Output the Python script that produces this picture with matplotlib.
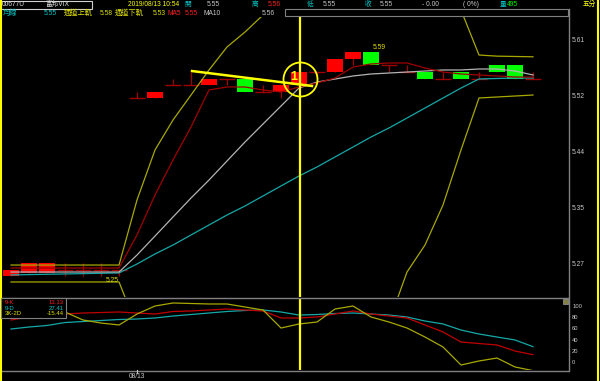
import matplotlib
matplotlib.use('Agg')
import matplotlib.pyplot as plt
from matplotlib.patches import Rectangle

plt.rcParams['font.family'] = ['Liberation Sans', 'Noto Sans CJK TC', 'DejaVu Sans']

# 5-minute bars, 00677U, 08/12 tail + 08/13 morning
opens = [5.25, 5.255, 5.255, 5.26, 5.26, 5.26, 5.26,
         5.52, 5.52, 5.54, 5.54, 5.54, 5.55, 5.55, 5.53, 5.53, 5.54, 5.56, 5.56, 5.58,
         5.59, 5.57, 5.56, 5.56, 5.55, 5.56, 5.55, 5.57, 5.57, 5.55]
highs = [5.26, 5.27, 5.27, 5.27, 5.27, 5.27, 5.26,
         5.53, 5.53, 5.55, 5.56, 5.55, 5.55, 5.55, 5.54, 5.54, 5.56, 5.56, 5.58, 5.59,
         5.59, 5.57, 5.57, 5.56, 5.56, 5.56, 5.56, 5.57, 5.57, 5.56]
lows = [5.25, 5.255, 5.255, 5.25, 5.25, 5.25, 5.25,
        5.52, 5.52, 5.54, 5.54, 5.54, 5.54, 5.53, 5.53, 5.52, 5.54, 5.55, 5.56, 5.57,
        5.57, 5.56, 5.56, 5.55, 5.55, 5.55, 5.55, 5.56, 5.55, 5.55]
closes = [5.26, 5.27, 5.27, 5.26, 5.26, 5.26, 5.26,
          5.52, 5.53, 5.54, 5.54, 5.55, 5.55, 5.53, 5.53, 5.54, 5.56, 5.56, 5.58, 5.59,
          5.57, 5.57, 5.56, 5.55, 5.55, 5.55, 5.55, 5.56, 5.55, 5.55]

ma5 = [5.2625, 5.2625, 5.2625, 5.2625, 5.2625, 5.2625, 5.2625,
       5.3126, 5.3733, 5.4264, 5.4765, 5.5326, 5.5372, 5.5372, 5.5326, 5.5296, 5.5372,
       5.5432, 5.5508, 5.5675, 5.5721, 5.5736, 5.5736, 5.566, 5.5599, 5.5569, 5.5554,
       5.5539, 5.5523, 5.5523]
ma10 = [5.2564, 5.2564, 5.2564, 5.2564, 5.2564, 5.2564, 5.2564,
        5.2822, 5.311, 5.3399, 5.3687, 5.396, 5.4249, 5.4537, 5.481, 5.5083, 5.5356,
        5.5447, 5.5493, 5.5539, 5.5569, 5.5584, 5.5599, 5.5614, 5.563, 5.563, 5.5645,
        5.5645, 5.5614, 5.5554]
avg_line = [5.252, 5.2525, 5.253, 5.2535, 5.254, 5.2545, 5.255,
            5.2686, 5.2838, 5.2974, 5.3126, 5.3278, 5.3429, 5.3566, 5.3718, 5.387, 5.4021,
            5.4158, 5.431, 5.4461, 5.4613, 5.475, 5.4901, 5.5053, 5.5205, 5.5356, 5.5493,
            5.5501, 5.5508, 5.5508]
band_up = [5.267, 5.267, 5.267, 5.267, 5.267, 5.267, 5.267,
           5.3657, 5.4416, 5.4871, 5.525, 5.563, 5.5979, 5.6206, 5.6464, 5.68, 5.70,
           5.71, 5.72, 5.73, 5.73, 5.72, 5.71, 5.70, 5.69, 5.654, 5.5857, 5.584,
           5.5835, 5.583]
band_dn = [5.2413, 5.2413, 5.2413, 5.2413, 5.2413, 5.2413, 5.2413,
           5.173, 5.10, 5.06, 5.03, 5.01, 5.00, 5.00, 5.00, 5.01, 5.02, 5.04, 5.06, 5.09,
           5.13, 5.1806, 5.2564, 5.2974, 5.3581, 5.4416, 5.5205, 5.522, 5.5235, 5.525]

k_line = [75, 80.4, 83.9, 85.7, 87.5, 88.4, 89.3, 87.5, 85.7, 90.2, 91.1, 92.9, 94.6,
          92.9, 91.1, 78.6, 78.6, 80.4, 85.7, 91.1, 85.7, 82.1, 78.6, 66.1, 53.6, 35.7,
          33.0, 30.4, 19.6, 13.13]
d_line = [58.9, 62.5, 65.2, 70.5, 72.3, 74.1, 75.9, 76.8, 78.6, 82.1, 84.8, 87.5, 90.2,
          92.0, 92.9, 89.3, 83.9, 84.8, 86.6, 87.5, 85.7, 83.9, 80.4, 73.2, 67.9, 57.1,
          50.0, 44.6, 39.3, 27.41]
j_line = [100, 98, 95, 89.3, 75, 69.6, 66.1, 85.7, 100, 105.4, 104.5, 103.6, 103.6,
          98.2, 92.9, 60.7, 67.9, 71.4, 94.6, 100, 80.4, 71.4, 60.7, 44.6, 26.8, -5.4,
          1.8, 7.1, -8.9, -15.44]

price_ticks = [5.61, 5.525, 5.44, 5.355, 5.27]
price_tick_labels = ['5.61', '5.52', '5.44', '5.35', '5.27']
kd_ticks = [100, 80, 60, 40, 20, 0]
date_label = '08/13'
date_slot = 7
cursor_slot = 16
trend_x = [10.06, 16.72]
trend_y = [5.5614, 5.5387]

header_row1 = [('00677U', 2, '#e0e0e0', 4.8), ('富邦VIX', 45, '#e0e0e0', 4.8),
               ('2019/08/13 10:54', 128, '#ffff00', 4.8), ('開', 184, '#00c8c8', 4.8),
               ('5.55', 207, '#c8c8c8', 4.8), ('高', 252, '#00c8c8', 4.8),
               ('5.56', 268, '#ff2020', 4.8), ('低', 307, '#00c8c8', 4.8),
               ('5.55', 323, '#c8c8c8', 4.8), ('收', 365, '#00c8c8', 4.8),
               ('5.55', 380, '#c8c8c8', 4.8), ('- 0.00', 422, '#c8c8c8', 4.8),
               ('( 0%)', 463, '#c8c8c8', 4.8), ('量', 500, '#00c8c8', 4.8),
               ('495', 507, '#00ff00', 4.8), ('五分', 583, '#ffff00', 4.8)]
header_row2 = [('均線', 3, '#00c8c8', 5.2), ('5.55', 44, '#00c8c8', 4.8),
               ('通道上軌', 64, '#e0e000', 5.2), ('5.58', 100, '#e0e000', 4.8),
               ('通道下軌', 115, '#e0e000', 5.2), ('5.53', 153, '#e0e000', 4.8),
               ('MA5', 168, '#ff2020', 4.8), ('5.55', 185, '#ff2020', 4.8),
               ('MA10', 203, '#c8c8c8', 4.8), ('5.56', 262, '#c8c8c8', 4.8)]
kd_legend = [('9-K', '13.13', '#ff2020'), ('9-D', '27.41', '#00c8c8'),
             ('3K-2D', '-15.44', '#e0e000')]

RED = '#ff0000'
GREEN = '#00ff00'
DARKRED = '#a00000'
GRAY = '#b4b4b4'
TEAL = '#14a8a8'
OLIVE = '#a8a800'
YELLOW = '#ffff00'

W, H = 600, 381
fig = plt.figure(figsize=(6, 3.81), dpi=100, facecolor='black')


def px_axes(x0, y0, x1, y1):
    a = fig.add_axes([x0 / W, 1 - y1 / H, (x1 - x0) / W, (y1 - y0) / H])
    a.set_facecolor('black')
    for s in a.spines.values():
        s.set_visible(False)
    a.set_xticks([])
    a.set_xlim(-11 / 18, 557 / 18)
    a.yaxis.tick_right()
    a.tick_params(axis='y', length=0, pad=3, labelcolor='#c8c8c8', labelsize=4.8)
    return a


slots = list(range(len(opens)))

# main price panel
ax = px_axes(0, 17, 568, 297)
ax.set_ylim(5.2185, 5.6434)
ax.set_yticks(price_ticks)
ax.set_yticklabels(price_tick_labels)

ax.vlines(slots, lows, highs, color=DARKRED, lw=0.9, zorder=2)
for i in slots:
    o, c = opens[i], closes[i]
    if c > o:
        ax.bar(i, c - o, bottom=o, width=0.94, color=RED, lw=0, zorder=3)
    elif c < o:
        ax.bar(i, o - c, bottom=c, width=0.94, color=GREEN, lw=0, zorder=3)
    else:
        ax.hlines(o, i - 0.47, i + 0.47, color=DARKRED, lw=1.0, zorder=3)

ax.plot(slots, band_up, color=OLIVE, lw=0.9, zorder=4)
ax.plot(slots, band_dn, color=OLIVE, lw=0.9, zorder=4)
ax.plot(slots, avg_line, color=TEAL, lw=0.9, zorder=4)
ax.plot(slots, ma10, color=GRAY, lw=0.9, zorder=4)
ax.plot(slots, ma5, color=DARKRED, lw=0.9, zorder=4)

hi_i = len(highs) - 1 - highs[::-1].index(max(highs))
lo_i = len(lows) - 1 - lows[::-1].index(min(lows))
ax.text(hi_i + 0.45, max(highs) + 0.007, '%.2f' % max(highs), color='#e0e000',
        fontsize=4.8, ha='center', va='center', zorder=6)
ax.text(lo_i - 0.4, min(lows) - 0.007, '%.2f' % min(lows), color='#e0e000',
        fontsize=4.8, ha='center', va='center', zorder=6)

# user drawings
ax.plot(trend_x, trend_y, color=YELLOW, lw=1.8, zorder=5)
ax.axvline(cursor_slot + 0.06, color=YELLOW, lw=1.6, zorder=5)
ax.plot([cursor_slot + 0.06], [5.5493], marker='o', ms=24.5, mfc='none', mec=YELLOW,
        mew=1.3, zorder=6)
ax.text(cursor_slot - 0.31, 5.5516, '1', color=YELLOW, fontsize=9, fontweight='bold',
        ha='center', va='center', zorder=6)

# KD panel
ax2 = px_axes(0, 298, 568, 370)
ax2.set_ylim(-14.3, 114.3)
ax2.set_yticks(kd_ticks)
ax2.tick_params(axis='y', labelsize=4.2)
ax2.plot(slots, d_line, color=TEAL, lw=0.9)
ax2.plot(slots, k_line, color='#c00000', lw=0.9)
ax2.plot(slots, j_line, color=OLIVE, lw=0.9)
ax2.axvline(cursor_slot + 0.06, color=YELLOW, lw=1.6)

# frame, header and overlays in pixel coordinates
ov = fig.add_axes([0, 0, 1, 1])
ov.set_xlim(0, W)
ov.set_ylim(H, 0)
ov.axis('off')
ov.patch.set_alpha(0)

ov.plot([0, 568], [297.5, 297.5], color='#808080', lw=1)
ov.plot([0, 568], [370.5, 370.5], color='#808080', lw=1)
ov.plot([568.5, 568.5], [9, 371], color='#808080', lw=1)
ov.add_patch(Rectangle((285, 9), 283, 7, fc='none', ec='#808080', lw=0.8))
ov.plot([0.6, 0.6], [0, H], color=YELLOW, lw=1.5)
ov.plot([597.5, 597.5], [0, H], color=YELLOW, lw=1.5)
ov.add_patch(Rectangle((563, 299), 5, 5, fc='#808040', ec='#a0a0a0', lw=0.5))

ov.add_patch(Rectangle((1, 0.5), 91, 8, fc='black', ec='#d0d0d0', lw=0.8))
for txt, x, col, fs in header_row1:
    ov.text(x, 4.8, txt, color=col, fontsize=fs, ha='left', va='center')
for txt, x, col, fs in header_row2:
    ov.text(x, 13.2, txt, color=col, fontsize=fs, ha='left', va='center')

ov.add_patch(Rectangle((1, 298), 65, 19.5, fc='black', ec='#808080', lw=0.8, zorder=5))
for n, (name, val, col) in enumerate(kd_legend):
    ov.text(5, 302.5 + n * 5.5, name, color=col, fontsize=4.3, ha='left', va='center', zorder=6)
    ov.text(64, 302.5 + n * 5.5, val, color=col, fontsize=4.3, ha='right', va='center', zorder=6)

date_px = 11 + 18 * date_slot
ov.plot([date_px, date_px], [370, 373], color='#c8c8c8', lw=0.8)
ov.text(date_px, 376.5, date_label, color='#c8c8c8', fontsize=4.8, ha='center', va='center')

fig.savefig('out.png', dpi=100, facecolor='black')
